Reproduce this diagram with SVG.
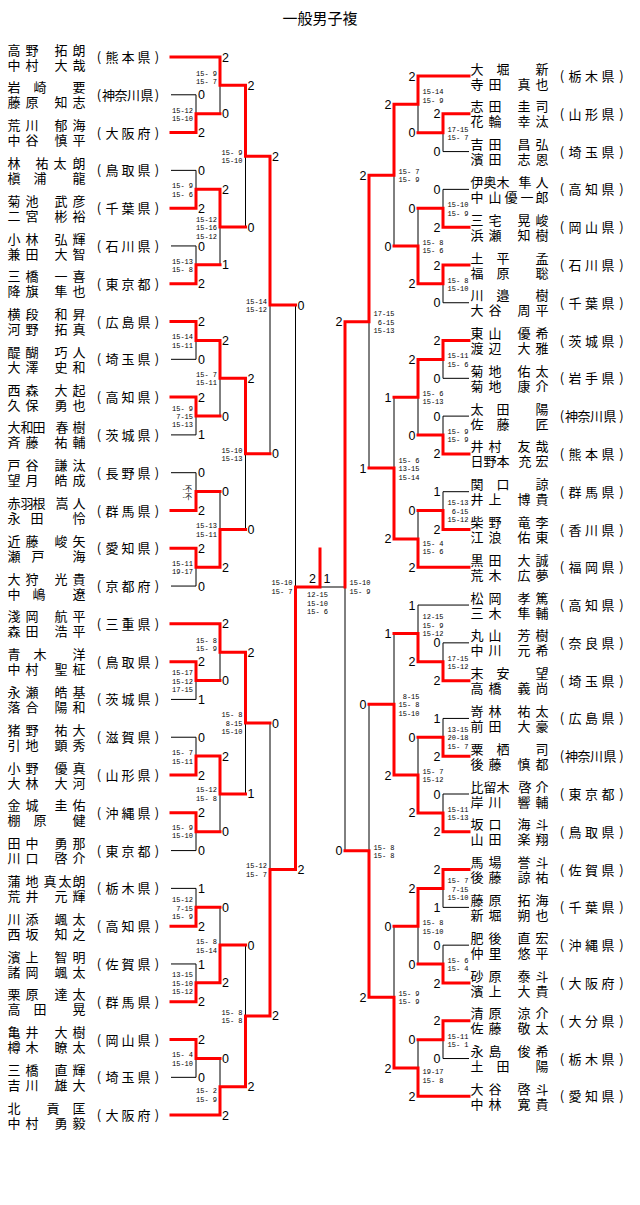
<svg xmlns="http://www.w3.org/2000/svg" width="640" height="1205" viewBox="0 0 640 1205">
<style>
.t{font-family:"Noto Sans CJK JP","Noto Sans CJK SC",sans-serif;font-size:13px;fill:#000;text-anchor:middle}
.ti{font-family:"Noto Sans CJK JP",sans-serif;font-size:15px;fill:#000;text-anchor:middle}
.s{font-family:"Liberation Sans",sans-serif;font-size:12.5px;fill:#000}
.se{font-family:"Liberation Sans",sans-serif;font-size:12.5px;fill:#000;text-anchor:end}
.g{font-family:"Liberation Mono",monospace;font-size:7px;fill:#000;white-space:pre}
.gk{font-family:"Noto Sans CJK JP",sans-serif;font-size:7px;fill:#000;text-anchor:end}
.k{stroke:#000;stroke-width:1;fill:none}
.r{stroke:#f00;stroke-width:3;fill:none;stroke-linecap:square;stroke-linejoin:miter}
</style>
<rect width="640" height="1205" fill="#fff"/>
<text class="ti" x="320" y="24">一般男子複</text>

<g id="left-teams">
<g id="L01"><text class="t"><tspan x="14 32 61 79" y="54.5">高野拓朗</tspan><tspan x="14 32 61 79" y="69.5">中村大哉</tspan></text><text class="t" x="99 112 128 144 157" y="62">(熊本県)</text></g>
<g id="L02"><text class="t"><tspan x="14 40 79" y="92.3">岩崎要</tspan><tspan x="14 32 61 79" y="107.3">藤原知志</tspan></text><text class="t" x="99 108.5 121 133.5 147 157" y="99.8">(神奈川県)</text></g>
<g id="L03"><text class="t"><tspan x="14 32 61 79" y="130.1">荒川郁海</tspan><tspan x="14 32 61 79" y="145.1">中谷慎平</tspan></text><text class="t" x="99 112 128 144 157" y="137.6">(大阪府)</text></g>
<g id="L04"><text class="t"><tspan x="14 42 60 79" y="167.9">林祐太朗</tspan><tspan x="14 40 79" y="182.9">槇浦龍</tspan></text><text class="t" x="99 112 128 144 157" y="175.4">(鳥取県)</text></g>
<g id="L05"><text class="t"><tspan x="14 32 61 79" y="205.7">菊池武彦</tspan><tspan x="14 32 61 79" y="220.7">二宮彬裕</tspan></text><text class="t" x="99 112 128 144 157" y="213.2">(千葉県)</text></g>
<g id="L06"><text class="t"><tspan x="14 32 61 79" y="243.5">小林弘輝</tspan><tspan x="14 32 61 79" y="258.5">兼田大智</tspan></text><text class="t" x="99 112 128 144 157" y="251">(石川県)</text></g>
<g id="L07"><text class="t"><tspan x="14 32 61 79" y="281.2">三橋一喜</tspan><tspan x="14 32 61 79" y="296.2">降旗隼也</tspan></text><text class="t" x="99 112 128 144 157" y="288.7">(東京都)</text></g>
<g id="L08"><text class="t"><tspan x="14 32 61 79" y="319">横段和昇</tspan><tspan x="14 32 61 79" y="334">河野拓真</tspan></text><text class="t" x="99 112 128 144 157" y="326.5">(広島県)</text></g>
<g id="L09"><text class="t"><tspan x="14 32 61 79" y="356.8">醍醐巧人</tspan><tspan x="14 32 61 79" y="371.8">大澤史和</tspan></text><text class="t" x="99 112 128 144 157" y="364.3">(埼玉県)</text></g>
<g id="L10"><text class="t"><tspan x="14 32 61 79" y="394.6">西森大起</tspan><tspan x="14 32 61 79" y="409.6">久保勇也</tspan></text><text class="t" x="99 112 128 144 157" y="402.1">(高知県)</text></g>
<g id="L11"><text class="t"><tspan x="14 27 39 62 79" y="432.4">大和田春樹</tspan><tspan x="14 32 61 79" y="447.4">斉藤祐輔</tspan></text><text class="t" x="99 112 128 144 157" y="439.9">(茨城県)</text></g>
<g id="L12"><text class="t"><tspan x="14 32 61 79" y="470.2">戸谷謙汰</tspan><tspan x="14 32 61 79" y="485.2">望月皓成</tspan></text><text class="t" x="99 112 128 144 157" y="477.7">(長野県)</text></g>
<g id="L13"><text class="t"><tspan x="14 27 39 62 79" y="508">赤羽根嵩人</tspan><tspan x="14 37 79" y="523">永田怜</tspan></text><text class="t" x="99 112 128 144 157" y="515.5">(群馬県)</text></g>
<g id="L14"><text class="t"><tspan x="14 32 61 79" y="545.8">近藤峻矢</tspan><tspan x="14 38 79" y="560.8">瀬戸海</tspan></text><text class="t" x="99 112 128 144 157" y="553.3">(愛知県)</text></g>
<g id="L15"><text class="t"><tspan x="14 32 61 79" y="583.6">大狩光貴</tspan><tspan x="14 39 79" y="598.6">中嶋遼</tspan></text><text class="t" x="99 112 128 144 157" y="591.1">(京都府)</text></g>
<g id="L16"><text class="t"><tspan x="14 32 61 79" y="621.4">淺岡航平</tspan><tspan x="14 32 61 79" y="636.4">森田浩平</tspan></text><text class="t" x="99 112 128 144 157" y="628.9">(三重県)</text></g>
<g id="L17"><text class="t"><tspan x="14 40 79" y="659.1">青木洋</tspan><tspan x="14 32 61 79" y="674.1">中村聖柾</tspan></text><text class="t" x="99 112 128 144 157" y="666.6">(鳥取県)</text></g>
<g id="L18"><text class="t"><tspan x="14 32 61 79" y="696.9">永瀬皓基</tspan><tspan x="14 32 61 79" y="711.9">落合陽和</tspan></text><text class="t" x="99 112 128 144 157" y="704.4">(茨城県)</text></g>
<g id="L19"><text class="t"><tspan x="14 32 61 79" y="734.7">猪野祐大</tspan><tspan x="14 32 61 79" y="749.7">引地顕秀</tspan></text><text class="t" x="99 112 128 144 157" y="742.2">(滋賀県)</text></g>
<g id="L20"><text class="t"><tspan x="14 32 61 79" y="772.5">小野優真</tspan><tspan x="14 32 61 79" y="787.5">大林大河</tspan></text><text class="t" x="99 112 128 144 157" y="780">(山形県)</text></g>
<g id="L21"><text class="t"><tspan x="14 32 61 79" y="810.3">金城圭佑</tspan><tspan x="14 40 79" y="825.3">棚原健</tspan></text><text class="t" x="99 112 128 144 157" y="817.8">(沖縄県)</text></g>
<g id="L22"><text class="t"><tspan x="14 32 61 79" y="848.1">田中勇那</tspan><tspan x="14 32 61 79" y="863.1">川口啓介</tspan></text><text class="t" x="99 112 128 144 157" y="855.6">(東京都)</text></g>
<g id="L23"><text class="t"><tspan x="14 32 50 65 79" y="885.9">蒲地真太朗</tspan><tspan x="14 32 61 79" y="900.9">荒井元輝</tspan></text><text class="t" x="99 112 128 144 157" y="893.4">(栃木県)</text></g>
<g id="L24"><text class="t"><tspan x="14 32 61 79" y="923.7">川添颯太</tspan><tspan x="14 32 61 79" y="938.7">西坂知之</tspan></text><text class="t" x="99 112 128 144 157" y="931.2">(高知県)</text></g>
<g id="L25"><text class="t"><tspan x="14 32 61 79" y="961.5">濱上智明</tspan><tspan x="14 32 61 79" y="976.5">諸岡颯太</tspan></text><text class="t" x="99 112 128 144 157" y="969">(佐賀県)</text></g>
<g id="L26"><text class="t"><tspan x="14 32 61 79" y="999.3">栗原達太</tspan><tspan x="14 40 79" y="1014.3">高田晃</tspan></text><text class="t" x="99 112 128 144 157" y="1006.8">(群馬県)</text></g>
<g id="L27"><text class="t"><tspan x="14 32 61 79" y="1037">亀井大樹</tspan><tspan x="14 32 61 79" y="1052">樽木瞭太</tspan></text><text class="t" x="99 112 128 144 157" y="1044.5">(岡山県)</text></g>
<g id="L28"><text class="t"><tspan x="14 32 61 79" y="1074.8">三橋直輝</tspan><tspan x="14 32 61 79" y="1089.8">吉川雄大</tspan></text><text class="t" x="99 112 128 144 157" y="1082.3">(埼玉県)</text></g>
<g id="L29"><text class="t"><tspan x="14 53 79" y="1112.6">北貢匡</tspan><tspan x="14 32 61 79" y="1127.6">中村勇毅</tspan></text><text class="t" x="99 112 128 144 157" y="1120.1">(大阪府)</text></g>
</g>

<g id="right-teams">
<g id="R01"><text class="t"><tspan x="477 503 542" y="73.5">大堀新</tspan><tspan x="477 495 524 542" y="88.5">寺田真也</tspan></text><text class="t" x="562 575 591.5 608 621.5" y="81">(栃木県)</text></g>
<g id="R02"><text class="t"><tspan x="477 495 524 542" y="111.3">志田圭司</tspan><tspan x="477 495 524 542" y="126.3">花輪幸汰</tspan></text><text class="t" x="562 575 591.5 608 621.5" y="118.8">(山形県)</text></g>
<g id="R03"><text class="t"><tspan x="477 495 524 542" y="149.1">吉田昌弘</tspan><tspan x="477 495 524 542" y="164.1">濱田志恩</tspan></text><text class="t" x="562 575 591.5 608 621.5" y="156.6">(埼玉県)</text></g>
<g id="R04"><text class="t"><tspan x="477 490 503 525 542" y="186.9">伊奥木隼人</tspan><tspan x="477 495 511 527 542" y="201.9">中山優一郎</tspan></text><text class="t" x="562 575 591.5 608 621.5" y="194.4">(高知県)</text></g>
<g id="R05"><text class="t"><tspan x="477 495 524 542" y="224.7">三宅晃峻</tspan><tspan x="477 495 524 542" y="239.7">浜瀬知樹</tspan></text><text class="t" x="562 575 591.5 608 621.5" y="232.2">(岡山県)</text></g>
<g id="R06"><text class="t"><tspan x="477 503 542" y="262.5">土平孟</tspan><tspan x="477 503 542" y="277.5">福原聡</tspan></text><text class="t" x="562 575 591.5 608 621.5" y="270">(石川県)</text></g>
<g id="R07"><text class="t"><tspan x="477 503 542" y="300.2">川邉樹</tspan><tspan x="477 495 524 542" y="315.2">大谷周平</tspan></text><text class="t" x="562 575 591.5 608 621.5" y="307.7">(千葉県)</text></g>
<g id="R08"><text class="t"><tspan x="477 495 524 542" y="338">東山優希</tspan><tspan x="477 495 524 542" y="353">渡辺大雅</tspan></text><text class="t" x="562 575 591.5 608 621.5" y="345.5">(茨城県)</text></g>
<g id="R09"><text class="t"><tspan x="477 495 524 542" y="375.8">菊地佑太</tspan><tspan x="477 495 524 542" y="390.8">菊地康介</tspan></text><text class="t" x="562 575 591.5 608 621.5" y="383.3">(岩手県)</text></g>
<g id="R10"><text class="t"><tspan x="477 503 542" y="413.6">太田陽</tspan><tspan x="477 503 542" y="428.6">佐藤匠</tspan></text><text class="t" x="562 571.5 584 596.5 610 621.5" y="421.1">(神奈川県)</text></g>
<g id="R11"><text class="t"><tspan x="477 495 524 542" y="451.4">井村友哉</tspan><tspan x="477 490 503 525 542" y="466.4">日野本充宏</tspan></text><text class="t" x="562 575 591.5 608 621.5" y="458.9">(熊本県)</text></g>
<g id="R12"><text class="t"><tspan x="477 503 542" y="489.2">関口諒</tspan><tspan x="477 495 524 542" y="504.2">井上博貴</tspan></text><text class="t" x="562 575 591.5 608 621.5" y="496.7">(群馬県)</text></g>
<g id="R13"><text class="t"><tspan x="477 495 524 542" y="527">柴野竜李</tspan><tspan x="477 495 524 542" y="542">江浪佑東</tspan></text><text class="t" x="562 575 591.5 608 621.5" y="534.5">(香川県)</text></g>
<g id="R14"><text class="t"><tspan x="477 495 524 542" y="564.8">黒田大誠</tspan><tspan x="477 495 524 542" y="579.8">荒木広夢</tspan></text><text class="t" x="562 575 591.5 608 621.5" y="572.3">(福岡県)</text></g>
<g id="R15"><text class="t"><tspan x="477 495 524 542" y="602.6">松岡孝篤</tspan><tspan x="477 495 524 542" y="617.6">三木隼輔</tspan></text><text class="t" x="562 575 591.5 608 621.5" y="610.1">(高知県)</text></g>
<g id="R16"><text class="t"><tspan x="477 495 524 542" y="640.4">丸山芳樹</tspan><tspan x="477 495 524 542" y="655.4">中川元希</tspan></text><text class="t" x="562 575 591.5 608 621.5" y="647.9">(奈良県)</text></g>
<g id="R17"><text class="t"><tspan x="477 503 542" y="678.1">末安望</tspan><tspan x="477 495 524 542" y="693.1">高橋義尚</tspan></text><text class="t" x="562 575 591.5 608 621.5" y="685.6">(埼玉県)</text></g>
<g id="R18"><text class="t"><tspan x="477 495 524 542" y="715.9">嵜林祐太</tspan><tspan x="477 495 524 542" y="730.9">前田大豪</tspan></text><text class="t" x="562 575 591.5 608 621.5" y="723.4">(広島県)</text></g>
<g id="R19"><text class="t"><tspan x="477 503 542" y="753.7">粟栖司</tspan><tspan x="477 495 524 542" y="768.7">後藤慎都</tspan></text><text class="t" x="562 571.5 584 596.5 610 621.5" y="761.2">(神奈川県)</text></g>
<g id="R20"><text class="t"><tspan x="477 490 503 525 542" y="791.5">比留木啓介</tspan><tspan x="477 495 524 542" y="806.5">岸川響輔</tspan></text><text class="t" x="562 575 591.5 608 621.5" y="799">(東京都)</text></g>
<g id="R21"><text class="t"><tspan x="477 495 524 542" y="829.3">坂口海斗</tspan><tspan x="477 495 524 542" y="844.3">山田楽翔</tspan></text><text class="t" x="562 575 591.5 608 621.5" y="836.8">(鳥取県)</text></g>
<g id="R22"><text class="t"><tspan x="477 495 524 542" y="867.1">馬場誉斗</tspan><tspan x="477 495 524 542" y="882.1">後藤諒祐</tspan></text><text class="t" x="562 575 591.5 608 621.5" y="874.6">(佐賀県)</text></g>
<g id="R23"><text class="t"><tspan x="477 495 524 542" y="904.9">藤原拓海</tspan><tspan x="477 495 524 542" y="919.9">新堀朔也</tspan></text><text class="t" x="562 575 591.5 608 621.5" y="912.4">(千葉県)</text></g>
<g id="R24"><text class="t"><tspan x="477 495 524 542" y="942.7">肥後直宏</tspan><tspan x="477 495 524 542" y="957.7">仲里悠平</tspan></text><text class="t" x="562 575 591.5 608 621.5" y="950.2">(沖縄県)</text></g>
<g id="R25"><text class="t"><tspan x="477 495 524 542" y="980.5">砂原泰斗</tspan><tspan x="477 495 524 542" y="995.5">濱上大貴</tspan></text><text class="t" x="562 575 591.5 608 621.5" y="988">(大阪府)</text></g>
<g id="R26"><text class="t"><tspan x="477 495 524 542" y="1018.3">清原涼介</tspan><tspan x="477 495 524 542" y="1033.3">佐藤敬太</tspan></text><text class="t" x="562 575 591.5 608 621.5" y="1025.8">(大分県)</text></g>
<g id="R27"><text class="t"><tspan x="477 495 524 542" y="1056">永島俊希</tspan><tspan x="477 503 542" y="1071">土田陽</tspan></text><text class="t" x="562 575 591.5 608 621.5" y="1063.5">(栃木県)</text></g>
<g id="R28"><text class="t"><tspan x="477 495 524 542" y="1093.8">大谷啓斗</tspan><tspan x="477 495 524 542" y="1108.8">中林寛貴</tspan></text><text class="t" x="562 575 591.5 608 621.5" y="1101.3">(愛知県)</text></g>
</g>

<g id="connectors">
<path class="k" d="M171 57H220M171 94.79H196M171 132.58H196M171 170.37H196M171 208.16H196M171 245.95H196M171 283.74H196M171 321.53H196M171 359.32H196M171 397.11H196M171 434.9H196M171 472.69H196M171 510.48H196M171 548.27H196M171 586.06H196M171 623.85H220M171 661.64H196M171 699.43H196M171 737.22H196M171 775.01H196M171 812.8H196M171 850.59H196M171 888.38H196M171 926.17H196M171 963.96H196M171 1001.75H196M171 1039.54H196M171 1077.33H196M171 1115.12H220
M196 94.79V132.58M196 170.37V208.16M196 245.95V283.74M196 321.53V359.32M196 397.11V434.9M196 472.69V510.48M196 548.27V586.06M196 661.64V699.43M196 737.22V775.01M196 812.8V850.59M196 888.38V926.17M196 963.96V1001.75M196 1039.54V1077.33
M220 57V113.69M220 189.27V264.85M220 340.43V416.01M220 491.59V567.17M220 623.85V680.54M220 756.12V831.7M220 907.28V982.86M220 1058.44V1115.12
M245.5 85.35V227.06M245.5 378.22V529.38M245.5 652.2V793.91M245.5 945.07V1086.78
M270 156.21V453.8M270 723.06V1015.93M295.5 305.01V869.5
M320 587H345
M469 76H418M469 113.79H443M469 151.58H443M469 189.37H443M469 227.16H443M469 264.95H443M469 302.74H443M469 340.53H443M469 378.32H443M469 416.11H443M469 453.9H443M469 491.69H443M469 529.48H443M469 567.27H418M469 605.06H418M469 642.85H443M469 680.64H443M469 718.43H443M469 756.22H443M469 794.01H443M469 831.8H443M469 869.59H443M469 907.38H443M469 945.17H443M469 982.96H443M469 1020.75H443M469 1058.54H443M469 1096.33H418
M443 113.79V151.58M443 189.37V227.16M443 264.95V302.74M443 340.53V378.32M443 416.11V453.9M443 491.69V529.48M443 642.85V680.64M443 718.43V756.22M443 794.01V831.8M443 869.59V907.38M443 945.17V982.96M443 1020.75V1058.54
M418 76V132.69M418 208.27V283.85M418 359.43V435.01M418 510.59V567.27M418 605.06V661.75M418 737.33V812.91M418 888.49V964.07M418 1039.65V1096.33
M394 104.35V246.06M394 397.22V538.93M394 633.41V775.12M394 926.28V1067.99
M369 175.21V468.08M369 704.27V997.14M345 321.65V850.71"/>
<path class="r" d="M171 132.58H196V113.69H220M171 208.16H196V189.27H220M171 283.74H196V264.85H220M171 321.53H196V340.43H220M171 397.11H196V416.01H220M171 510.48H196V491.59H220M171 548.27H196V567.17H220M171 661.64H196V680.54H220M171 775.01H196V756.12H220M171 812.8H196V831.7H220M171 926.17H196V907.28H220M171 1001.75H196V982.86H220M171 1039.54H196V1058.44H220
M171 57H220V85.35H245.5M220 189.27V227.06H245.5M220 340.43V378.22H245.5M220 567.17V529.38H245.5M171 623.85H220V652.2H245.5M220 756.12V793.91H245.5M220 982.86V945.07H245.5M171 1115.12H220V1086.78H245.5
M245.5 85.35V156.21H270M245.5 378.22V453.8H270M245.5 652.2V723.06H270M245.5 1086.78V1015.93H270
M270 156.21V305.01H295.5M270 1015.93V869.5H295.5
M295.5 869.5V587H320M320 587V549
M469 113.79H443V132.69H418M469 227.16H443V208.27H418M469 264.95H443V283.85H418M469 340.53H443V359.43H418M469 453.9H443V435.01H418M469 529.48H443V510.59H418M469 680.64H443V661.75H418M469 756.22H443V737.33H418M469 831.8H443V812.91H418M469 869.59H443V888.49H418M469 982.96H443V964.07H418M469 1020.75H443V1039.65H418
M469 76H418V104.35H394M418 283.85V246.06H394M418 359.43V397.22H394M469 567.27H418V538.93H394M418 661.75V633.41H394M418 812.91V775.12H394M418 888.49V926.28H394M469 1096.33H418V1067.99H394
M394 104.35V175.21H369M394 538.93V468.08H369M394 775.12V704.27H369M394 1067.99V997.14H369
M369 175.21V321.65H345M369 997.14V850.71H345
M345 321.65V587"/>
</g>

<g id="scores">
<text class="s" x="198" y="99.3">0</text><text class="s" x="198" y="137.1">2</text><text class="s" x="198" y="174.9">0</text><text class="s" x="198" y="212.7">2</text><text class="s" x="198" y="250.5">0</text><text class="s" x="198" y="288.2">2</text><text class="s" x="198" y="326">2</text><text class="s" x="198" y="363.8">0</text><text class="s" x="198" y="401.6">2</text><text class="s" x="198" y="439.4">1</text><text class="s" x="198" y="477.2">0</text><text class="s" x="198" y="515">2</text><text class="s" x="198" y="552.8">2</text><text class="s" x="198" y="590.6">0</text><text class="s" x="198" y="666.1">2</text><text class="s" x="198" y="703.9">1</text><text class="s" x="198" y="741.7">0</text><text class="s" x="198" y="779.5">2</text><text class="s" x="198" y="817.3">2</text><text class="s" x="198" y="855.1">0</text><text class="s" x="198" y="892.9">1</text><text class="s" x="198" y="930.7">2</text><text class="s" x="198" y="968.5">1</text><text class="s" x="198" y="1006.3">2</text><text class="s" x="198" y="1044">2</text><text class="s" x="198" y="1081.8">0</text>
<text class="s" x="222" y="61.5">2</text><text class="s" x="222" y="118.2">0</text><text class="s" x="222" y="193.8">2</text><text class="s" x="222" y="269.4">1</text><text class="s" x="222" y="344.9">2</text><text class="s" x="222" y="420.5">0</text><text class="s" x="222" y="496.1">0</text><text class="s" x="222" y="571.7">2</text><text class="s" x="222" y="628.4">2</text><text class="s" x="222" y="685">0</text><text class="s" x="222" y="760.6">2</text><text class="s" x="222" y="836.2">0</text><text class="s" x="222" y="911.8">0</text><text class="s" x="222" y="987.4">2</text><text class="s" x="222" y="1062.9">0</text><text class="s" x="222" y="1119.6">2</text>
<text class="s" x="247.5" y="89.9">2</text><text class="s" x="247.5" y="231.6">0</text><text class="s" x="247.5" y="382.7">2</text><text class="s" x="247.5" y="533.9">0</text><text class="s" x="247.5" y="656.7">2</text><text class="s" x="247.5" y="798.4">1</text><text class="s" x="247.5" y="949.6">0</text><text class="s" x="247.5" y="1091.3">2</text>
<text class="s" x="272" y="160.7">2</text><text class="s" x="272" y="458.3">0</text><text class="s" x="272" y="727.6">0</text><text class="s" x="272" y="1020.4">2</text>
<text class="s" x="297.5" y="309.5">0</text><text class="s" x="297.5" y="874">2</text>
<text class="se" x="316" y="582.5">2</text><text class="s" x="323.5" y="582.5">1</text>
<text class="se" x="440.5" y="118.3">2</text><text class="se" x="440.5" y="156.1">0</text><text class="se" x="440.5" y="193.9">0</text><text class="se" x="440.5" y="231.7">2</text><text class="se" x="440.5" y="269.5">2</text><text class="se" x="440.5" y="307.2">0</text><text class="se" x="440.5" y="345">2</text><text class="se" x="440.5" y="382.8">0</text><text class="se" x="440.5" y="420.6">0</text><text class="se" x="440.5" y="458.4">2</text><text class="se" x="440.5" y="496.2">1</text><text class="se" x="440.5" y="534">2</text><text class="se" x="440.5" y="647.4">0</text><text class="se" x="440.5" y="685.1">2</text><text class="se" x="440.5" y="722.9">1</text><text class="se" x="440.5" y="760.7">2</text><text class="se" x="440.5" y="798.5">0</text><text class="se" x="440.5" y="836.3">2</text><text class="se" x="440.5" y="874.1">2</text><text class="se" x="440.5" y="911.9">1</text><text class="se" x="440.5" y="949.7">0</text><text class="se" x="440.5" y="987.5">2</text><text class="se" x="440.5" y="1025.3">2</text><text class="se" x="440.5" y="1063">0</text>
<text class="se" x="415.5" y="80.5">2</text><text class="se" x="415.5" y="137.2">0</text><text class="se" x="415.5" y="212.8">0</text><text class="se" x="415.5" y="288.4">2</text><text class="se" x="415.5" y="363.9">2</text><text class="se" x="415.5" y="439.5">0</text><text class="se" x="415.5" y="515.1">0</text><text class="se" x="415.5" y="571.8">2</text><text class="se" x="415.5" y="609.6">1</text><text class="se" x="415.5" y="666.3">2</text><text class="se" x="415.5" y="741.8">0</text><text class="se" x="415.5" y="817.4">2</text><text class="se" x="415.5" y="893">2</text><text class="se" x="415.5" y="968.6">0</text><text class="se" x="415.5" y="1044.2">0</text><text class="se" x="415.5" y="1100.8">2</text>
<text class="se" x="391.5" y="108.9">2</text><text class="se" x="391.5" y="250.6">0</text><text class="se" x="391.5" y="401.7">1</text><text class="se" x="391.5" y="543.4">2</text><text class="se" x="391.5" y="637.9">1</text><text class="se" x="391.5" y="779.6">2</text><text class="se" x="391.5" y="930.8">0</text><text class="se" x="391.5" y="1072.5">2</text>
<text class="se" x="366.5" y="179.7">2</text><text class="se" x="366.5" y="472.6">1</text><text class="se" x="366.5" y="708.8">0</text><text class="se" x="366.5" y="1001.6">2</text>
<text class="se" x="342.5" y="326.2">2</text><text class="se" x="342.5" y="855.2">0</text>
</g>

<g id="set-scores" xml:space="preserve">
<text class="g" x="172" y="112.5">15-12</text><text class="g" x="172" y="120.9">15-10</text>
<text class="g" x="196" y="75.8">15- 9</text><text class="g" x="196" y="84.2">15- 7</text>
<text class="g" x="172" y="188.1">15- 9</text><text class="g" x="172" y="196.5">15- 6</text>
<text class="g" x="172" y="263.7">15-13</text><text class="g" x="172" y="272.1">15- 8</text>
<text class="g" x="196" y="221.7">15-12</text><text class="g" x="196" y="230.1">15-16</text><text class="g" x="196" y="238.5">15-12</text>
<text class="g" x="221.5" y="155">15- 9</text><text class="g" x="221.5" y="163.4">15-10</text>
<text class="g" x="246" y="303.8">15-14</text><text class="g" x="246" y="312.2">15-12</text>
<text class="g" x="172" y="339.2">15-14</text><text class="g" x="172" y="347.6">15-11</text>
<text class="g" x="172" y="410.6">15- 9</text><text class="g" x="172" y="419"> 7-15</text><text class="g" x="172" y="427.4">15-13</text>
<text class="g" x="196" y="377">15- 7</text><text class="g" x="196" y="385.4">15-11</text>
<text class="gk" x="192" y="490.6">-不</text><text class="gk" x="192" y="499">-不</text>
<text class="g" x="172" y="566">15-11</text><text class="g" x="172" y="574.4">19-17</text>
<text class="g" x="196" y="528.2">15-13</text><text class="g" x="196" y="536.6">15-11</text>
<text class="g" x="221.5" y="452.6">15-10</text><text class="g" x="221.5" y="461">15-13</text>
<text class="g" x="196" y="642.8">15- 8</text><text class="g" x="196" y="651.2">15- 9</text>
<text class="g" x="172" y="675.1">15-17</text><text class="g" x="172" y="683.5">15-12</text><text class="g" x="172" y="691.9">17-15</text>
<text class="g" x="172" y="755.3">15- 7</text><text class="g" x="172" y="763.7">15-11</text>
<text class="g" x="172" y="830">15- 9</text><text class="g" x="172" y="838.4">15-10</text>
<text class="g" x="196" y="792.3">15-12</text><text class="g" x="196" y="800.7">15- 8</text>
<text class="g" x="221.5" y="717.1">15- 8</text><text class="g" x="221.5" y="725.5"> 8-15</text><text class="g" x="221.5" y="733.9">15-10</text>
<text class="g" x="246" y="868.3">15-12</text><text class="g" x="246" y="876.7">15- 7</text>
<text class="g" x="172" y="902.1">15-12</text><text class="g" x="172" y="910.5"> 7-15</text><text class="g" x="172" y="918.9">15- 9</text>
<text class="g" x="172" y="977.4">13-15</text><text class="g" x="172" y="985.8">15-10</text><text class="g" x="172" y="994.2">15-12</text>
<text class="g" x="196" y="944.2">15- 8</text><text class="g" x="196" y="952.6">15-14</text>
<text class="g" x="172" y="1057.2">15- 4</text><text class="g" x="172" y="1065.6">15-10</text>
<text class="g" x="196" y="1093.3">15- 2</text><text class="g" x="196" y="1101.7">15- 9</text>
<text class="g" x="221.5" y="1014.7">15- 8</text><text class="g" x="221.5" y="1023.1">15- 8</text>
<text class="g" x="271.5" y="585.3">15-10</text><text class="g" x="271.5" y="593.7">15- 7</text>
<text class="g" x="307" y="597.4">12-15</text><text class="g" x="307" y="605.8">15-10</text><text class="g" x="307" y="614.2">15- 6</text>
<text class="g" x="349.5" y="585.3">15-10</text><text class="g" x="349.5" y="593.7">15- 9</text>
<text class="g" x="447.5" y="131.5">17-15</text><text class="g" x="447.5" y="139.9">15- 7</text>
<text class="g" x="422.5" y="94.3">15-14</text><text class="g" x="422.5" y="102.7">15- 9</text>
<text class="g" x="447.5" y="207.1">15-10</text><text class="g" x="447.5" y="215.5">15- 9</text>
<text class="g" x="447.5" y="282.7">15- 8</text><text class="g" x="447.5" y="291.1">15-10</text>
<text class="g" x="422.5" y="244.9">15- 8</text><text class="g" x="422.5" y="253.3">15- 6</text>
<text class="g" x="398.5" y="174">15- 7</text><text class="g" x="398.5" y="182.4">15- 9</text>
<text class="g" x="373.5" y="316.3">17-15</text><text class="g" x="373.5" y="324.7"> 6-15</text><text class="g" x="373.5" y="333.1">15-13</text>
<text class="g" x="447.5" y="358.2">15-11</text><text class="g" x="447.5" y="366.6">15- 6</text>
<text class="g" x="447.5" y="433.8">15- 9</text><text class="g" x="447.5" y="442.2">15- 9</text>
<text class="g" x="422.5" y="396">15- 6</text><text class="g" x="422.5" y="404.4">15-13</text>
<text class="g" x="447.5" y="505.2">15-13</text><text class="g" x="447.5" y="513.6"> 6-15</text><text class="g" x="447.5" y="522">15-12</text>
<text class="g" x="422.5" y="545.8">15- 4</text><text class="g" x="422.5" y="554.2">15- 6</text>
<text class="g" x="398.5" y="462.7">15- 6</text><text class="g" x="398.5" y="471.1">13-15</text><text class="g" x="398.5" y="479.5">15-14</text>
<text class="g" x="422.5" y="619.1">12-15</text><text class="g" x="422.5" y="627.5">15- 9</text><text class="g" x="422.5" y="635.9">15-12</text>
<text class="g" x="447.5" y="660.6">17-15</text><text class="g" x="447.5" y="669">15-12</text>
<text class="g" x="398.5" y="698.9"> 8-15</text><text class="g" x="398.5" y="707.3">15- 8</text><text class="g" x="398.5" y="715.7">15-10</text>
<text class="g" x="447.5" y="731.9">13-15</text><text class="g" x="447.5" y="740.3">20-18</text><text class="g" x="447.5" y="748.7">15- 7</text>
<text class="g" x="422.5" y="773.9">15- 7</text><text class="g" x="422.5" y="782.3">15-12</text>
<text class="g" x="447.5" y="811.7">15-11</text><text class="g" x="447.5" y="820.1">15-13</text>
<text class="g" x="373.5" y="849.5">15- 8</text><text class="g" x="373.5" y="857.9">15- 8</text>
<text class="g" x="447.5" y="883.1">15- 7</text><text class="g" x="447.5" y="891.5"> 7-15</text><text class="g" x="447.5" y="899.9">15-10</text>
<text class="g" x="422.5" y="925.1">15- 8</text><text class="g" x="422.5" y="933.5">15-10</text>
<text class="g" x="447.5" y="962.9">15- 6</text><text class="g" x="447.5" y="971.3">15- 4</text>
<text class="g" x="398.5" y="995.9">15- 9</text><text class="g" x="398.5" y="1004.3">15- 9</text>
<text class="g" x="447.5" y="1038.5">15-11</text><text class="g" x="447.5" y="1046.9">15- 1</text>
<text class="g" x="422.5" y="1074.1">19-17</text><text class="g" x="422.5" y="1082.5">15- 8</text>
</g>
</svg>
